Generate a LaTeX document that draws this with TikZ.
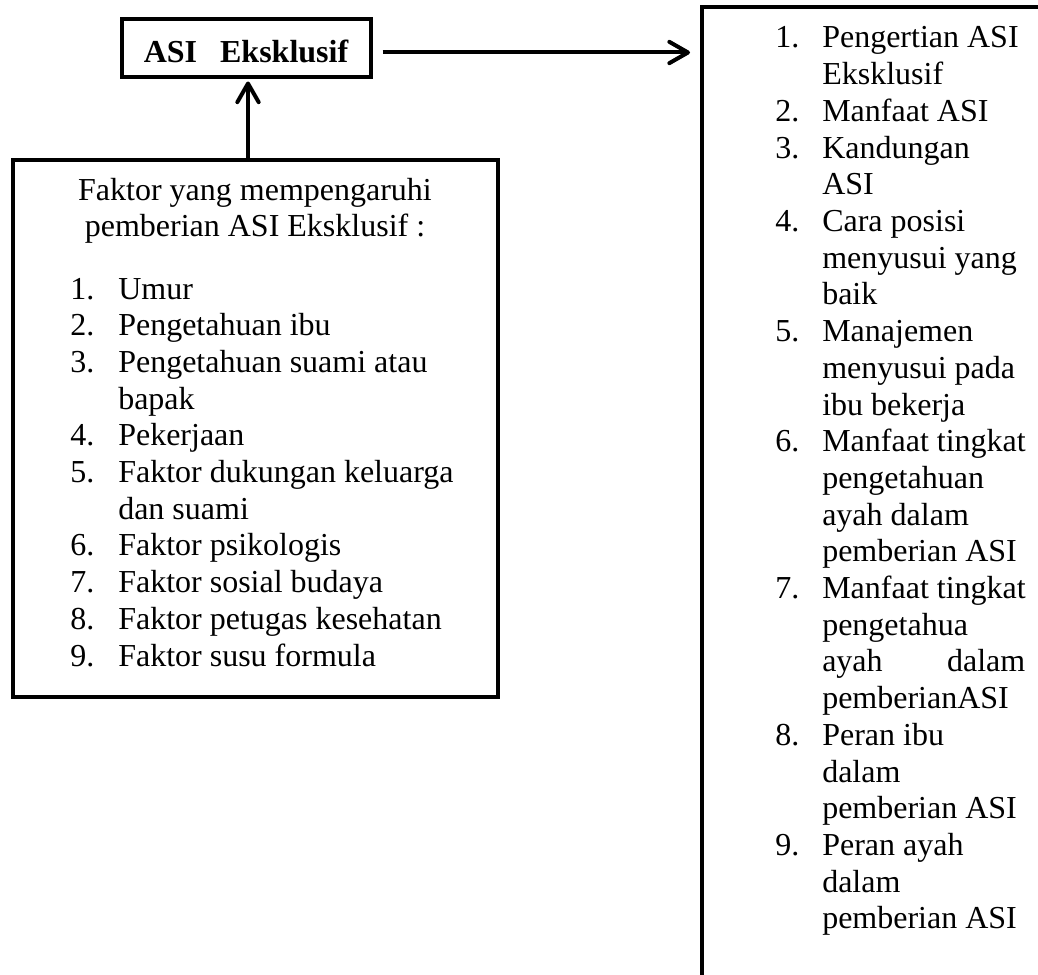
\documentclass[tikz,border=0pt]{standalone}
\usepackage{fontspec}
\setmainfont{Liberation Serif}
\usetikzlibrary{arrows.meta,calc}
\begin{document}
\begin{tikzpicture}[x=0.75pt,y=-0.75pt,
  box/.style={draw,line width=3pt,rectangle,inner sep=0pt},
  conn/.style={line width=3pt,-{Straight Barb[length=14pt,width=16pt,line width=3pt,round]}},
  txt/.style={font=\fontsize{24}{27.5}\selectfont,inner sep=0pt,anchor=base west},
  ctxt/.style={font=\fontsize{24}{27.5}\selectfont,inner sep=0pt,anchor=base}]
\useasboundingbox (0,0) rectangle (1038,974);
\fill[white] (0,0) rectangle (1038,974);
\clip (0,0) rectangle (1038,974);
% boxes
\node[box,minimum width=186.75pt,minimum height=43.5pt] (asi) at (246,48.5) {};
\node[ctxt,font=\fontsize{24}{27.5}\selectfont\bfseries] (asilbl) at (246,63) {ASI\hspace{0.72em}Eksklusif};
\node[box,minimum width=363.75pt,minimum height=402.75pt] (faktor) at (255,428) {};
\node[box,minimum width=298.5pt,minimum height=782.25pt] (rbox) at (901,528.5) {};
% connectors
\draw[conn,shorten >=1.5pt] ([xshift=-5.25pt]faktor.north) -- ([xshift=-5.25pt]faktor.north |- asi.south);
\draw[conn,shorten <=7.5pt,shorten >=7.5pt] ([yshift=-3pt]asi.east) -- ([yshift=-3pt]asi.east -| rbox.west);
% left box text
\node[ctxt] (lh1) at (255,200) {Faktor yang mempengaruhi};
\node[ctxt] (lh2) at (255,236) {pemberian ASI Eksklusif :};
\foreach \k/\n in {0/1.,1/2.,2/3.,4/4.,5/5.,7/6.,8/7.,9/8.,10/9.}
  \node[txt] (ln\k) at (70,{299+36.7*\k}) {\n};
\foreach \k/\t in {0/Umur,1/Pengetahuan ibu,2/Pengetahuan suami atau,3/bapak,4/Pekerjaan,5/Faktor dukungan keluarga,6/dan suami,7/Faktor psikologis,8/Faktor sosial budaya,9/Faktor petugas kesehatan,10/Faktor susu formula}
  \node[txt] (lt\k) at (118,{299+36.7*\k}) {\t};
% right box text
\foreach \k/\n in {0/1.,2/2.,3/3.,5/4.,8/5.,11/6.,15/7.,19/8.,22/9.}
  \node[txt] (rn\k) at (775,{48+36.7*\k}) {\n};
\foreach \k/\t in {0/Pengertian ASI,1/Eksklusif,2/Manfaat ASI,3/Kandungan,4/ASI,5/Cara posisi,6/menyusui yang,7/baik,8/Manajemen,9/menyusui pada,10/ibu bekerja,11/Manfaat tingkat,12/pengetahuan,13/ayah dalam,14/pemberian ASI,15/Manfaat tingkat,16/pengetahua,17/{\hbox to 152.25pt{ayah\hfill dalam}},18/pemberianASI,19/Peran ibu,20/dalam,21/pemberian ASI,22/Peran ayah,23/dalam,24/pemberian ASI}
  \node[txt] (rt\k) at (822,{48+36.7*\k}) {\t};
\end{tikzpicture}
\end{document}
